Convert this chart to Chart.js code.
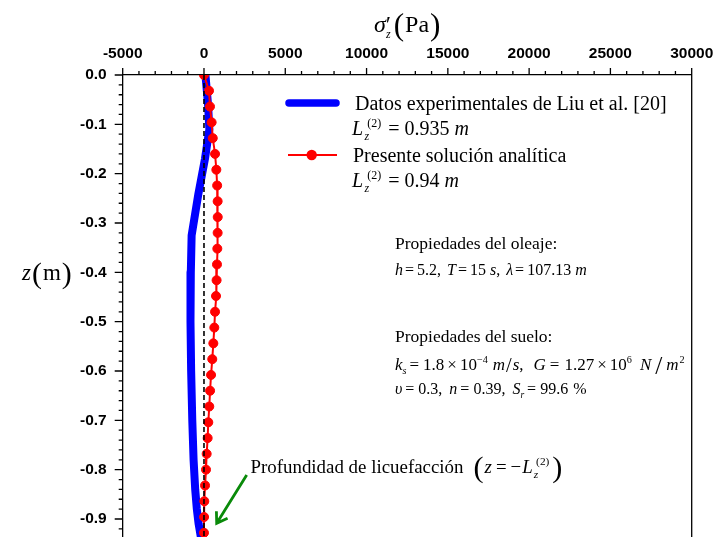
<!DOCTYPE html>
<html lang="es">
<head>
    <meta charset="UTF-8">
    <title>Tensión efectiva vertical</title>
    <style>
        body {
            margin: 0;
            background-color: #ffffff;
        }
        #wrap {
            width: 714px;
            height: 537px;
        }
    </style>
    <script src="https://cdn.jsdelivr.net/npm/chart.js"></script>
</head>
<body>
    <div id="wrap"><canvas id="chart" width="714" height="537"></canvas></div>
    <script>
        // Datos experimentales de Liu et al. [20]: profundidad z (m) y sigma'_z (Pa)
        const expDepth  = [0, -0.06, -0.11, -0.17, -0.24, -0.325, -0.40, -0.50, -0.60, -0.70, -0.78, -0.84, -0.88, -0.91, -0.935];
        const expStress = [90, 250, 330, 60, -340, -760, -810, -830, -790, -720, -640, -540, -440, -330, -200];

        // Presente solución analítica
        const solDepth  = [0, -0.032, -0.064, -0.096, -0.128, -0.160, -0.192, -0.224, -0.256, -0.288,
                           -0.320, -0.352, -0.384, -0.416, -0.448, -0.480, -0.512, -0.544, -0.576, -0.608,
                           -0.640, -0.672, -0.704, -0.736, -0.768, -0.800, -0.832, -0.864, -0.896, -0.928];
        const solStress = [0, 310, 370, 470, 540, 680, 760, 810, 840, 845,
                           840, 820, 800, 775, 740, 680, 635, 575, 510, 435,
                           375, 325, 265, 225, 165, 125, 65, 20, 5, 0];

        // línea de referencia sigma'_z = 0
        const zeroDepth  = [0, -0.94];
        const zeroStress = [0, 0];

        const xTicks = [-5000, 0, 5000, 10000, 15000, 20000, 25000, 30000];
        const yTicks = [-0.9, -0.8, -0.7, -0.6, -0.5, -0.4, -0.3, -0.2, -0.1, 0];

        function toPoints(xs, ys) {
            return xs.map((v, i) => ({ x: v, y: ys[i] }));
        }

        const SERIF = '"Liberation Serif", "Times New Roman", serif';

        // texto con cursivas, subíndices y superíndices; números = avance en px
        function rich(ctx, x, y, parts, size, dry) {
            for (const p of parts) {
                if (typeof p === 'number') { x += p; continue; }
                const [txt, st = '', sc = 1, dy = 0] = p;
                ctx.font = (st === 'i' ? 'italic ' : '') + (size * sc) + 'px ' + SERIF;
                if (!dry) ctx.fillText(txt, x, y + dy);
                x += ctx.measureText(txt).width;
            }
            return x;
        }

        // sin relleno extra de Chart.js alrededor de los ejes
        function noPad(s) {
            s.paddingTop = 0;
            s.paddingBottom = 0;
            s.paddingLeft = 0;
            s.paddingRight = 0;
        }

        const decor = {
            id: 'decor',
            afterDraw(chart) {
                const { ctx, chartArea: a, scales: { x, y } } = chart;
                ctx.save();

                // ticks mayores y menores hacia fuera
                ctx.strokeStyle = '#000';
                ctx.lineWidth = 1.3;
                ctx.beginPath();
                for (let k = 0; k <= 35; k++) {
                    const px = x.getPixelForValue(-5000 + k * 1000);
                    const len = k % 5 === 0 ? 7 : 4;
                    ctx.moveTo(px, a.top);
                    ctx.lineTo(px, a.top - len);
                }
                for (let k = 0; k <= 47; k++) {
                    const py = y.getPixelForValue(-k * 0.02);
                    const len = k % 5 === 0 ? 8 : 4;
                    ctx.moveTo(a.left, py);
                    ctx.lineTo(a.left - len, py);
                }
                // borde derecho
                ctx.moveTo(a.right, a.top);
                ctx.lineTo(a.right, a.bottom);
                ctx.stroke();

                ctx.fillStyle = '#000';
                ctx.textBaseline = 'alphabetic';
                ctx.textAlign = 'left';

                // título eje x
                const tParts = [['σ', 'i'], ['′'], -5, ['z', 'i', 0.5, 6], 3, ['(', '', 1.3, 3], 1, ['Pa'], 1, [')', '', 1.3, 3]];
                const tw = rich(ctx, 0, 0, tParts, 24, true);
                rich(ctx, (a.left + a.right) / 2 - tw / 2, 32, tParts, 24);

                // título eje y
                rich(ctx, 22, 280, [['z', 'i'], 1, ['(', '', 1.3, 3], 1, ['m'], 1, [')', '', 1.3, 3]], 23);

                // leyenda
                ctx.lineCap = 'round';
                ctx.strokeStyle = '#0000ff';
                ctx.lineWidth = 7.5;
                ctx.beginPath();
                ctx.moveTo(289, 103);
                ctx.lineTo(336, 103);
                ctx.stroke();
                ctx.lineCap = 'butt';
                ctx.strokeStyle = '#ff0000';
                ctx.lineWidth = 2;
                ctx.beginPath();
                ctx.moveTo(288, 155);
                ctx.lineTo(337, 155);
                ctx.stroke();
                ctx.fillStyle = '#ff0000';
                ctx.beginPath();
                ctx.arc(311.7, 155, 5.2, 0, Math.PI * 2);
                ctx.fill();

                ctx.fillStyle = '#000';
                rich(ctx, 355, 110, [['Datos experimentales de Liu et al. [20]']], 20);
                rich(ctx, 352, 135, [['L', 'i'], 1.5, ['z', 'i', 0.6, 5], -2, ['(2)', '', 0.6, -8], 7, ['='], 5, ['0.935'], 5, ['m', 'i']], 20);
                rich(ctx, 353, 162, [['Presente solución analítica']], 20);
                rich(ctx, 352, 187, [['L', 'i'], 1.5, ['z', 'i', 0.6, 5], -2, ['(2)', '', 0.6, -8], 7, ['='], 5, ['0.94'], 5, ['m', 'i']], 20);

                // propiedades
                rich(ctx, 395, 249, [['Propiedades del oleaje:']], 17.5);
                rich(ctx, 395, 275, [['h', 'i'], 2, ['='], 3, ['5.2,'], 6, ['T', 'i'], 2, ['='], 3, ['15'], 4, ['s', 'i'], [','], 6,
                                     ['λ', 'i'], 2, ['='], 3, ['107.13'], 4, ['m', 'i']], 16);
                rich(ctx, 395, 342, [['Propiedades del suelo:']], 17.5);
                rich(ctx, 395, 370, [['k', 'i'], ['s', 'i', 0.6, 4], 3, ['='], 4, ['1.8'], 3, ['×'], 3, ['10'], ['−4', '', 0.6, -7], 5, ['m', 'i'], 1, ['/', '', 1.2, 2], 1, ['s', 'i'], [','], 10,
                                     ['G', 'i'], 4, ['='], 5, ['1.27'], 3, ['×'], 3, ['10'], ['6', '', 0.6, -7], 8, ['N', 'i'], 4, ['/', '', 1.5, 4], 4, ['m', 'i'], 1, ['2', '', 0.6, -7]], 17);
                rich(ctx, 395, 394, [['υ', 'i'], 3, ['='], 4, ['0.3,'], 7, ['n', 'i'], 3, ['='], 4, ['0.39,'], 7,
                                     ['S', 'i'], ['r', 'i', 0.6, 4], 3, ['='], 4, ['99.6'], 5, ['%']], 16);

                // profundidad de licuefacción
                rich(ctx, 250.5, 473, [['Profundidad de licuefacción'], 10, ['(', '', 1.6, 4], 1, ['z', 'i'], 4, ['='], 4, ['−'], 1,
                                       ['L', 'i'], 1, ['z', 'i', 0.6, 5], -2, ['(2)', '', 0.6, -8], 3, [')', '', 1.6, 4]], 18.9);

                // flecha verde
                const tail = { x: 246.7, y: 475 };
                const tip = { x: 216.7, y: 523.3 };
                const ang = Math.atan2(tail.y - tip.y, tail.x - tip.x);
                ctx.strokeStyle = '#0a8a0a';
                ctx.lineWidth = 2.8;
                ctx.lineCap = 'butt';
                ctx.beginPath();
                ctx.moveTo(tail.x, tail.y);
                ctx.lineTo(tip.x, tip.y);
                ctx.moveTo(tip.x + 12 * Math.cos(ang - 0.58), tip.y + 12 * Math.sin(ang - 0.58));
                ctx.lineTo(tip.x, tip.y);
                ctx.lineTo(tip.x + 12 * Math.cos(ang + 0.58), tip.y + 12 * Math.sin(ang + 0.58));
                ctx.stroke();

                ctx.restore();
            }
        };

        const tickFont = { family: '"Liberation Sans", Arial, sans-serif', size: 15.5, weight: 'bold' };

        new Chart(document.getElementById('chart'), {
            type: 'line',
            data: {
                datasets: [
                    {
                        label: 'cero',
                        data: toPoints(zeroStress, zeroDepth),
                        borderColor: '#000000',
                        borderWidth: 1.6,
                        borderDash: [5, 3],
                        pointRadius: 0,
                        clip: 0
                    },
                    {
                        label: 'Presente solución analítica',
                        data: toPoints(solStress, solDepth),
                        borderColor: '#ff0000',
                        borderWidth: 2,
                        pointRadius: 4.5,
                        pointBorderWidth: 1,
                        pointBackgroundColor: '#ff0000',
                        pointBorderColor: '#ff0000',
                        clip: 0
                    },
                    {
                        label: 'Datos experimentales de Liu et al. [20]',
                        data: toPoints(expStress, expDepth),
                        borderColor: '#0000ff',
                        borderWidth: 8,
                        borderCapStyle: 'round',
                        borderJoinStyle: 'round',
                        pointRadius: 0,
                        clip: 0
                    }
                ]
            },
            options: {
                responsive: false,
                animation: false,
                devicePixelRatio: 1,
                layout: { autoPadding: false, padding: { left: 0, right: 22.3, top: 0, bottom: 0 } },
                plugins: {
                    legend: { display: false },
                    tooltip: { enabled: false }
                },
                scales: {
                    x: {
                        type: 'linear',
                        position: 'top',
                        min: -5000,
                        max: 30000,
                        grid: { display: false, drawTicks: false },
                        border: { display: true, color: '#000000', width: 1.3 },
                        ticks: { padding: 12, font: tickFont, color: '#000000', autoSkip: false, maxRotation: 0, callback: v => String(v) },
                        afterBuildTicks: s => { s.ticks = xTicks.map(v => ({ value: v })); },
                        afterFit: s => { s.height = 75; noPad(s); }
                    },
                    y: {
                        type: 'linear',
                        min: -0.9365,
                        max: 0,
                        grid: { display: false, drawTicks: false },
                        border: { display: true, color: '#000000', width: 1.3 },
                        ticks: { padding: 16, font: tickFont, color: '#000000', autoSkip: false, callback: v => v.toFixed(1) },
                        afterBuildTicks: s => { s.ticks = yTicks.map(v => ({ value: v })); },
                        afterFit: s => { s.width = 122.7; noPad(s); }
                    }
                }
            },
            plugins: [decor]
        });
    </script>
</body>
</html>
